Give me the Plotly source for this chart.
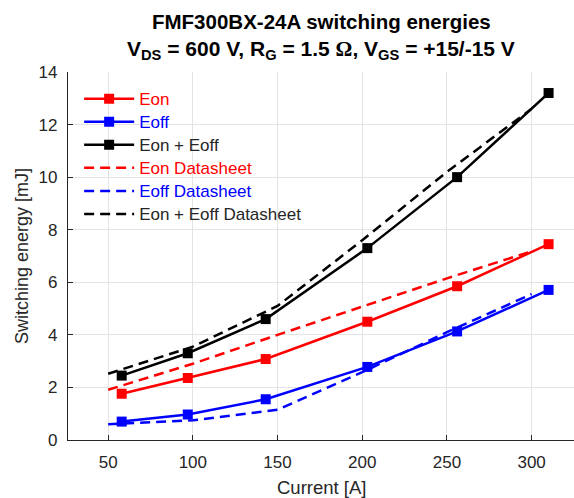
import plotly.graph_objects as go

# Measured data
current = [58, 97, 143, 203, 256, 310]
eon = [1.76, 2.36, 3.08, 4.50, 5.85, 7.45]
eoff = [0.70, 0.97, 1.55, 2.78, 4.13, 5.71]
etot = [2.45, 3.30, 4.60, 7.30, 10.0, 13.2]

# Datasheet curves
current_ds = [50, 100, 150, 200, 250, 300]
eon_ds = [1.91, 2.90, 4.00, 5.07, 6.15, 7.18]
eoff_ds = [0.60, 0.75, 1.15, 2.58, 4.10, 5.55]
etot_ds = [2.52, 3.55, 5.10, 7.60, 10.2, 12.6]

x_ticks = [50, 100, 150, 200, 250, 300]
y_ticks = [0, 2, 4, 6, 8, 10, 12, 14]

title_line1 = "FMF300BX-24A switching energies"
title_line2 = ("V<sub>DS</sub> = 600 V, R<sub>G</sub> = 1.5 "
               "<span style='font-family:Liberation Serif'>Ω</span>, "
               "V<sub>GS</sub> = +15/-15 V")
x_title = "Current [A]"
y_title = "Switching energy [mJ]"

RED = "#ff0000"
BLUE = "#0000ff"
BLACK = "#000000"
TXT = "#262626"
FONT = "Liberation Sans, Arial, sans-serif"

fig = go.Figure()

def solid(x, y, color, name):
    fig.add_trace(go.Scatter(
        x=x, y=y, mode="lines+markers",
        line=dict(color=color, width=2.5),
        marker=dict(symbol="square", size=10, color=color),
        name=name))

def dashed(x, y, color, name):
    fig.add_trace(go.Scatter(
        x=x, y=y, mode="lines",
        line=dict(color=color, width=2.5, dash="10px,6px"),
        name=name))

def lg(text, color):
    return f"<span style='color:{color};font-size:17px'>{text}</span>"

solid(current, eon, RED, lg("Eon", RED))
solid(current, eoff, BLUE, lg("Eoff", BLUE))
solid(current, etot, BLACK, lg("Eon + Eoff", TXT))
dashed(current_ds, eon_ds, RED, lg("Eon Datasheet", RED))
dashed(current_ds, eoff_ds, BLUE, lg("Eoff Datasheet", BLUE))
dashed(current_ds, etot_ds, BLACK, lg("Eon + Eoff Datasheet", TXT))

PH = 498 - 72 - 58  # plot height in px

fig.update_layout(
    width=574, height=498,
    margin=dict(l=68, r=0, t=72, b=58, autoexpand=False),
    paper_bgcolor="white", plot_bgcolor="white",
    font=dict(family=FONT, size=17, color=TXT),
    legend=dict(
        x=0.022, y=0.972, xanchor="left", yanchor="top",
        bgcolor="rgba(255,255,255,0)", borderwidth=0,
        font=dict(family=FONT, size=15.4, color=TXT),
        itemwidth=50, tracegroupgap=0),
    showlegend=True,
    annotations=[
        dict(text="<b>" + title_line1 + "</b>", xref="paper", yref="paper",
             x=0.5, y=1 + (72 - 22) / PH, xanchor="center", yanchor="middle",
             showarrow=False, font=dict(family=FONT, size=20.5, color=BLACK)),
        dict(text="<b>" + title_line2 + "</b>", xref="paper", yref="paper",
             x=0.5, y=1 + (72 - 50) / PH, xanchor="center", yanchor="middle",
             showarrow=False, font=dict(family=FONT, size=21, color=BLACK)),
        dict(text=x_title, xref="paper", yref="paper",
             x=0.5, y=0, yshift=-47, xanchor="center", yanchor="middle",
             showarrow=False, font=dict(family=FONT, size=18.5, color=TXT)),
        dict(text=y_title, xref="paper", yref="paper",
             x=0, xshift=-46, y=0.5, xanchor="center", yanchor="middle",
             textangle=-90,
             showarrow=False, font=dict(family=FONT, size=18, color=TXT)),
    ],
)

fig.update_xaxes(
    range=[26.3, 325], tickvals=x_ticks, ticktext=[str(v) for v in x_ticks],
    showgrid=True, gridcolor="#e3e3e3", gridwidth=1,
    showline=True, linecolor=TXT, linewidth=1.2,
    ticks="inside", ticklen=5, tickcolor=TXT,
    ticklabelstandoff=6, zeroline=False, automargin=False,
)
fig.update_yaxes(
    range=[0, 14], tickvals=y_ticks, ticktext=[str(v) for v in y_ticks],
    showgrid=True, gridcolor="#e3e3e3", gridwidth=1,
    showline=True, linecolor=TXT, linewidth=1.2,
    ticks="inside", ticklen=5, tickcolor=TXT,
    ticklabelstandoff=6, zeroline=False, automargin=False,
)

fig.write_html("out.html",
               config={"displayModeBar": False},
               post_script="document.body.style.margin='0';document.body.style.overflow='hidden';")
